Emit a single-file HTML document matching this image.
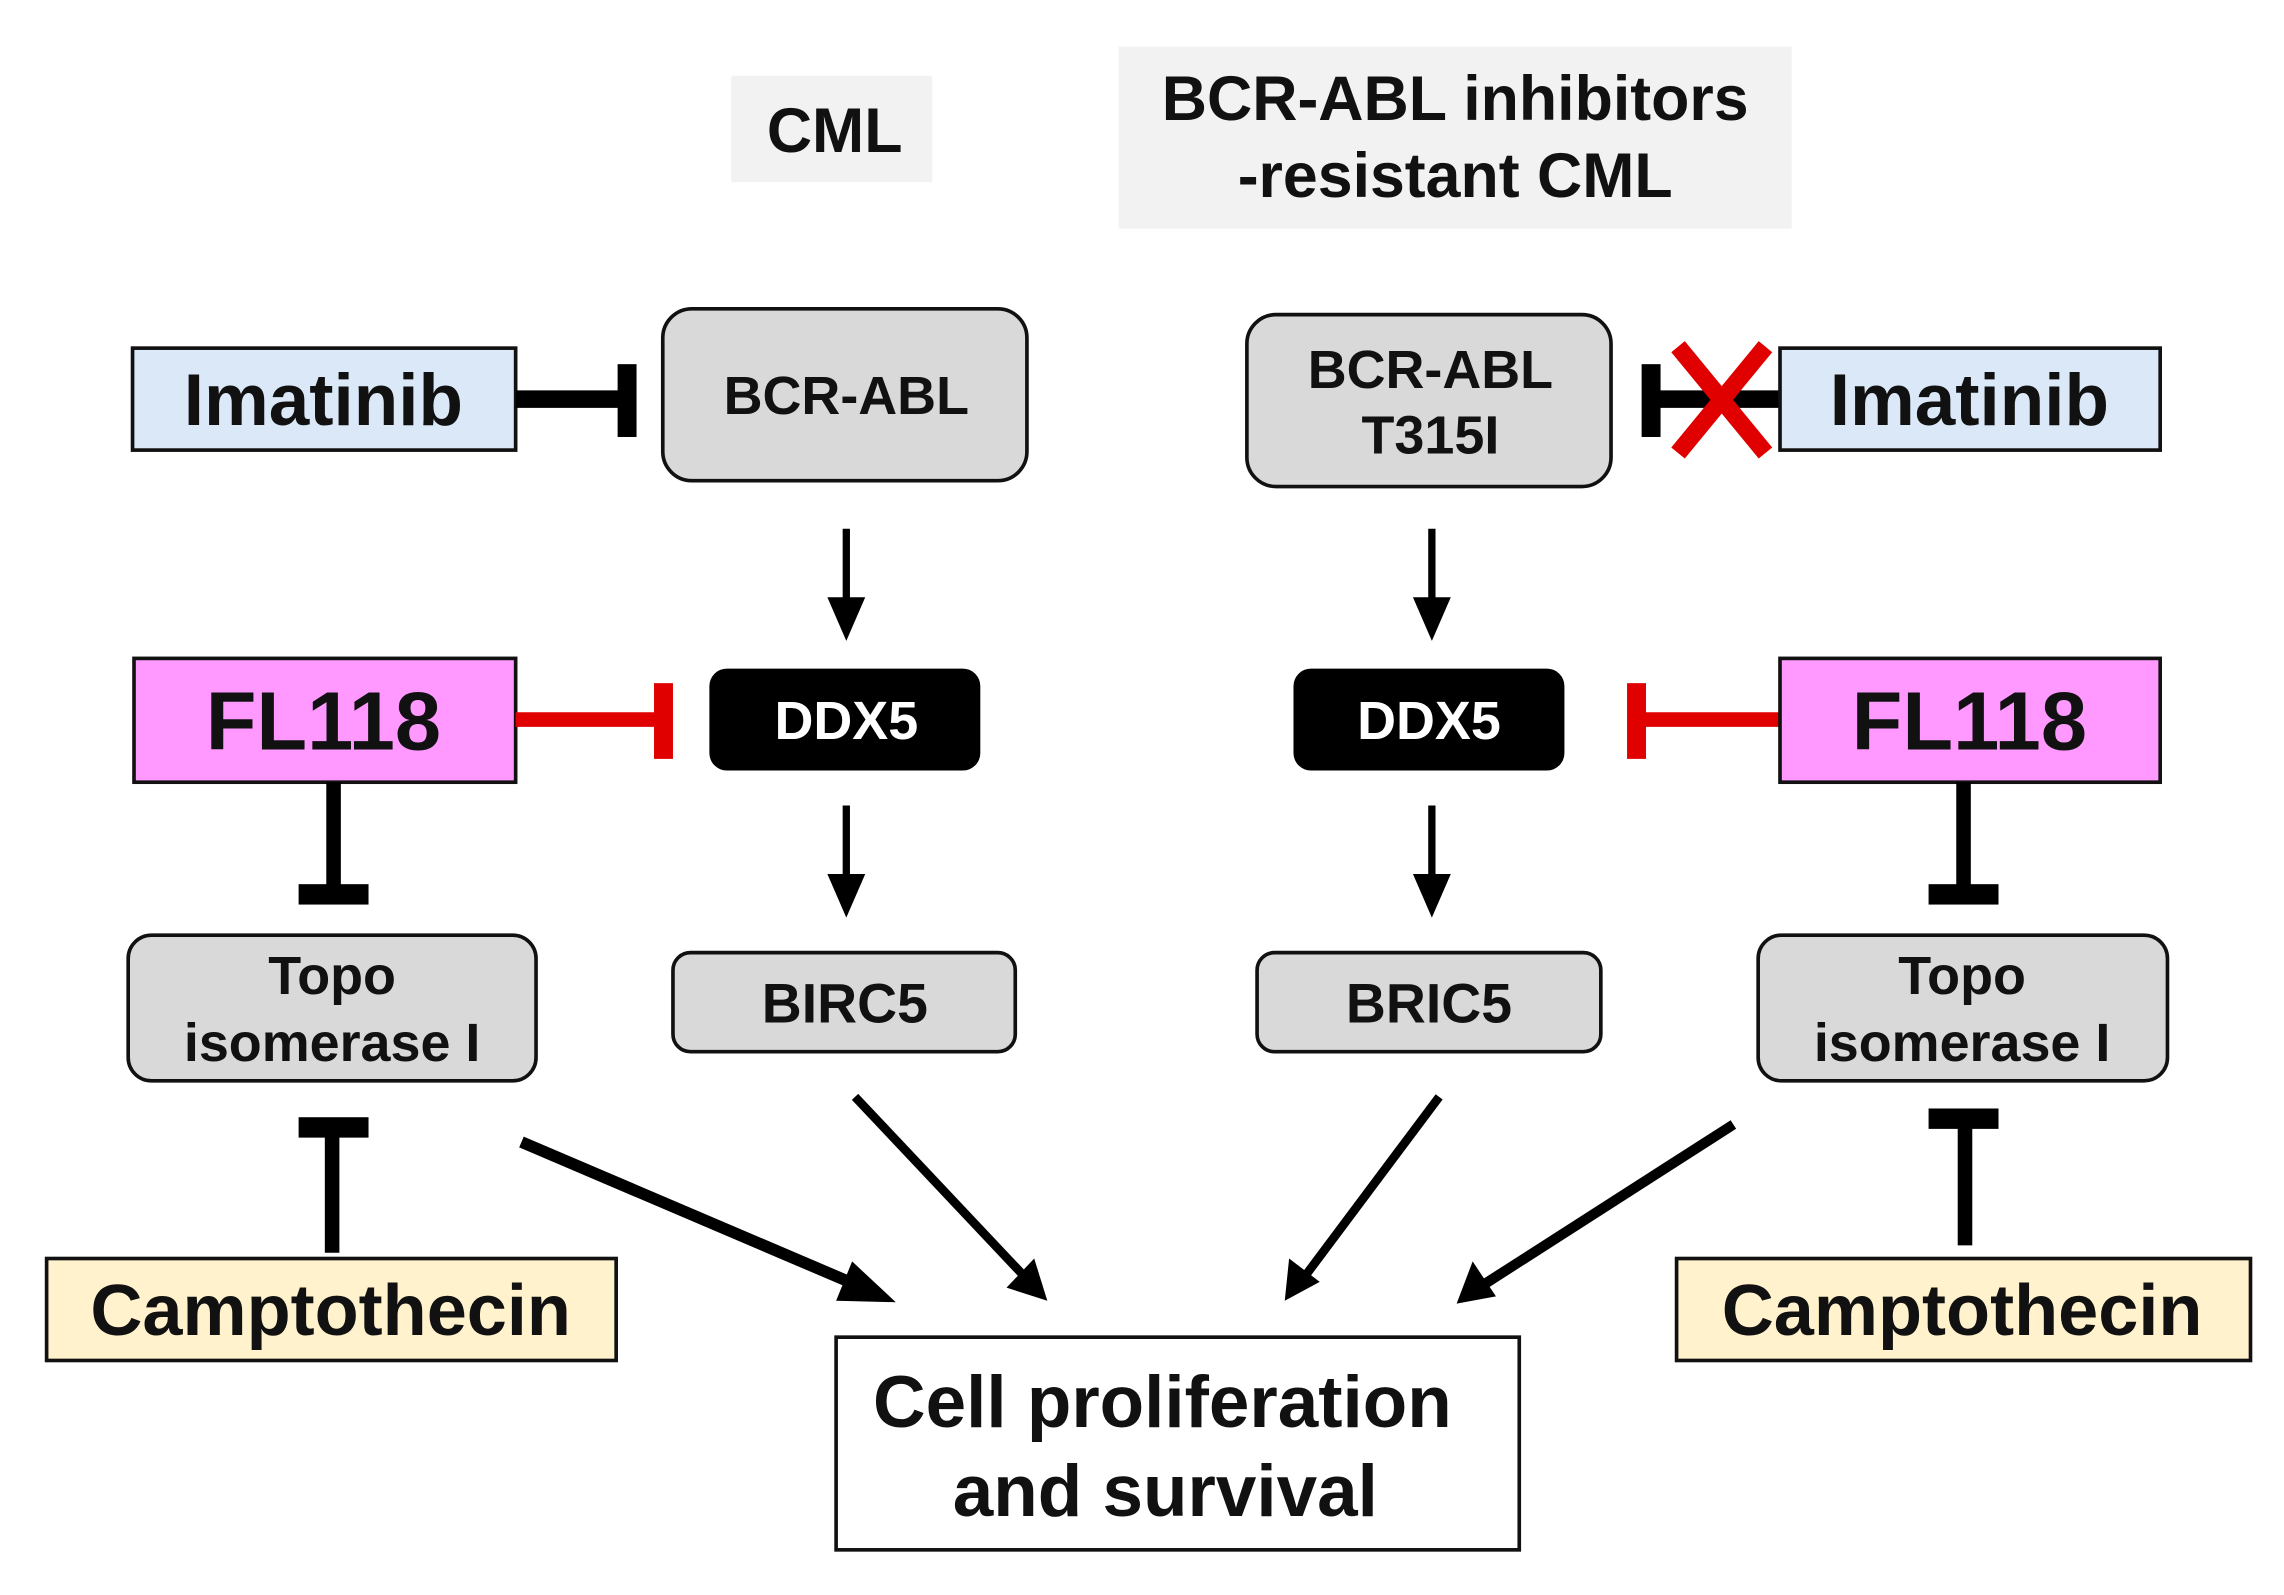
<!DOCTYPE html>
<html><head><meta charset="utf-8"><style>
html,body{margin:0;padding:0;background:#fff;}
svg{display:block;}
text{font-family:"Liberation Sans",Arial,sans-serif;font-weight:bold;text-anchor:middle;dominant-baseline:central;fill:#111;}
</style></head><body>
<svg width="2284" height="1595" viewBox="0 0 1568 1095" preserveAspectRatio="none" xmlns="http://www.w3.org/2000/svg">
<rect width="1568" height="1095" fill="#fff"/>
<!-- headers -->
<rect x="502" y="52" width="138" height="73" fill="#f2f2f2"/>
<text x="573" y="90" font-size="43">CML</text>
<rect x="768" y="32" width="462" height="125" fill="#f2f2f2"/>
<text x="999" y="68" font-size="43">BCR-ABL  inhibitors</text>
<text x="999" y="121" font-size="43">-resistant CML</text>

<!-- LEFT -->
<rect x="91" y="239" width="263" height="70" fill="#dae8f8" stroke="#111" stroke-width="2.5"/>
<text x="222" y="275" font-size="50">Imatinib</text>
<line x1="354" y1="274" x2="430" y2="274" stroke="#000" stroke-width="12"/>
<rect x="424" y="250" width="13" height="50" fill="#000"/>
<rect x="455" y="212" width="250" height="118" rx="20" fill="#d9d9d9" stroke="#111" stroke-width="2.5"/>
<text x="581" y="272" font-size="37">BCR-ABL</text>
<line x1="581" y1="363" x2="581" y2="415" stroke="#000" stroke-width="5"/>
<polygon points="568,410 594,410 581,440" fill="#000"/>
<rect x="92" y="452" width="262" height="85" fill="#ff99ff" stroke="#111" stroke-width="2.5"/>
<text x="222" y="495" font-size="57">FL118</text>
<line x1="354" y1="494" x2="452" y2="494" stroke="#e00000" stroke-width="10"/>
<rect x="449" y="469" width="13" height="52" fill="#e00000"/>
<rect x="487" y="459" width="186" height="70" rx="12" fill="#000"/>
<text x="581" y="495" font-size="37" style="fill:#fff">DDX5</text>
<line x1="581" y1="553" x2="581" y2="605" stroke="#000" stroke-width="5"/>
<polygon points="568,600 594,600 581,630" fill="#000"/>
<line x1="229" y1="537" x2="229" y2="612" stroke="#000" stroke-width="10"/>
<rect x="205" y="607" width="48" height="14" fill="#000"/>
<rect x="88" y="642" width="280" height="100" rx="16" fill="#d9d9d9" stroke="#111" stroke-width="2.5"/>
<text x="228" y="670" font-size="37">Topo</text>
<text x="228" y="716" font-size="37">isomerase I</text>
<rect x="462" y="654" width="235" height="68" rx="12" fill="#d9d9d9" stroke="#111" stroke-width="2.5"/>
<text x="580" y="689" font-size="38">BIRC5</text>
<rect x="205" y="767" width="48" height="14" fill="#000"/>
<line x1="228" y1="775" x2="228" y2="860" stroke="#000" stroke-width="10"/>
<rect x="32" y="864" width="391" height="70" fill="#fff2cc" stroke="#111" stroke-width="2.5"/>
<text x="227" y="900" font-size="49.5">Camptothecin</text>

<!-- convergent arrows -->
<line x1="358" y1="784" x2="590" y2="883" stroke="#000" stroke-width="8"/>
<polygon points="615,894 585,866 574,893" fill="#000"/>
<line x1="587" y1="753" x2="703" y2="876" stroke="#000" stroke-width="6"/>
<polygon points="719,893 691,884 710,864" fill="#000"/>
<line x1="988" y1="753" x2="896" y2="876" stroke="#000" stroke-width="6"/>
<polygon points="882,893 885,864 906,880" fill="#000"/>
<line x1="1190" y1="772" x2="1020" y2="881" stroke="#000" stroke-width="7"/>
<polygon points="1000,895 1011,866 1027,890" fill="#000"/>

<rect x="574" y="918" width="469" height="146" fill="#fff" stroke="#111" stroke-width="2.5"/>
<text x="798" y="963" font-size="50">Cell proliferation</text>
<text x="800" y="1024" font-size="50">and survival</text>

<!-- RIGHT -->
<rect x="856" y="216" width="250" height="118" rx="20" fill="#d9d9d9" stroke="#111" stroke-width="2.5"/>
<text x="982" y="254" font-size="37">BCR-ABL</text>
<text x="982" y="299" font-size="37">T315I</text>
<line x1="1133" y1="274" x2="1222" y2="274" stroke="#000" stroke-width="12"/>
<rect x="1127" y="250" width="13" height="50" fill="#000"/>
<line x1="1152" y1="238" x2="1212" y2="311" stroke="#e00000" stroke-width="12"/>
<line x1="1212" y1="238" x2="1152" y2="311" stroke="#e00000" stroke-width="12"/>
<rect x="1222" y="239" width="261" height="70" fill="#dae8f8" stroke="#111" stroke-width="2.5"/>
<text x="1352" y="275" font-size="50">Imatinib</text>
<line x1="983" y1="363" x2="983" y2="415" stroke="#000" stroke-width="5"/>
<polygon points="970,410 996,410 983,440" fill="#000"/>
<rect x="888" y="459" width="186" height="70" rx="12" fill="#000"/>
<text x="981" y="495" font-size="37" style="fill:#fff">DDX5</text>
<line x1="1124" y1="494" x2="1222" y2="494" stroke="#e00000" stroke-width="10"/>
<rect x="1117" y="469" width="13" height="52" fill="#e00000"/>
<rect x="1222" y="452" width="261" height="85" fill="#ff99ff" stroke="#111" stroke-width="2.5"/>
<text x="1352" y="495" font-size="57">FL118</text>
<line x1="983" y1="553" x2="983" y2="605" stroke="#000" stroke-width="5"/>
<polygon points="970,600 996,600 983,630" fill="#000"/>
<rect x="863" y="654" width="236" height="68" rx="12" fill="#d9d9d9" stroke="#111" stroke-width="2.5"/>
<text x="981" y="689" font-size="38">BRIC5</text>
<line x1="1348" y1="537" x2="1348" y2="612" stroke="#000" stroke-width="10"/>
<rect x="1324" y="607" width="48" height="14" fill="#000"/>
<rect x="1207" y="642" width="281" height="100" rx="16" fill="#d9d9d9" stroke="#111" stroke-width="2.5"/>
<text x="1347" y="670" font-size="37">Topo</text>
<text x="1347" y="716" font-size="37">isomerase I</text>
<rect x="1324" y="761" width="48" height="14" fill="#000"/>
<line x1="1349" y1="770" x2="1349" y2="855" stroke="#000" stroke-width="10"/>
<rect x="1151" y="864" width="394" height="70" fill="#fff2cc" stroke="#111" stroke-width="2.5"/>
<text x="1347" y="900" font-size="49.5">Camptothecin</text>
</svg>
</body></html>
